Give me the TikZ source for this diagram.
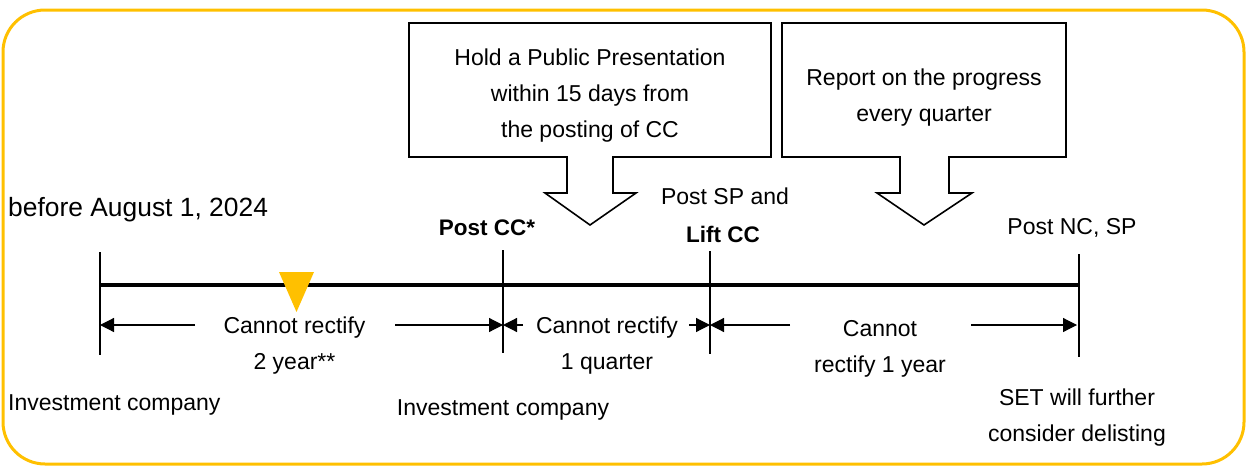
\documentclass[tikz,border=0pt]{standalone}
\usepackage{fontspec}
\setmainfont{Liberation Sans}
\usetikzlibrary{arrows.meta}
\definecolor{gold}{HTML}{FFC000}
\begin{document}
\begin{tikzpicture}[x=1pt,y=-1pt,
  lbl/.style={inner sep=0pt,font=\fontsize{23}{36}\selectfont,align=center},
  bold/.style={inner sep=0pt,font=\fontsize{22.5}{36}\selectfont\bfseries,align=center},
  boxline/.style={line width=1.6pt,draw=black},
  tick/.style={line width=1.8pt},
  dim/.style={line width=1.2pt,-{Triangle[length=14pt,width=14pt]}},
  axis/.style={line width=3.5pt}]
\useasboundingbox (0,0) rectangle (1248,466);
% frame
\draw[gold,line width=3pt,rounded corners=42pt] (3,10) rectangle (1244,464);
% callout 1
\node[lbl] (box1) at (590,96) {Hold a Public Presentation\\within 15 days from\\the posting of CC};
\draw[boxline] (567,157) -- (409,157) -- (409,23) -- (771,23) -- (771,157) -- (613,157)
  -- (613,193) -- (636,193) -- (590,225) -- (545,193) -- (567,193) -- cycle;
% callout 2
\node[lbl] (box2) at (924,98) {Report on the progress\\every quarter};
\draw[boxline] (900,157) -- (782,157) -- (782,23) -- (1066,23) -- (1066,157) -- (949,157)
  -- (949,193) -- (972,193) -- (924,225) -- (877,193) -- (900,193) -- cycle;
% timeline
\coordinate (t1) at (100,285);
\coordinate (t2) at (503,285);
\coordinate (t3) at (710,285);
\coordinate (t4) at (1079,285);
\draw[axis] (t1) -- (t4);
\draw[tick] (100,252) -- (100,355);
\draw[tick] (503,250) -- (503,353);
\draw[tick] (710,251) -- (710,354);
\draw[tick] (1079,254) -- (1079,357);
% marker
\fill[gold] (279,272) -- (314,272) -- (296.5,312) -- cycle;
% dimension arrows
\coordinate (a1) at (100,325);
\coordinate (a2) at (503,325);
\coordinate (a3) at (710,325);
\coordinate (a4) at (1077,325);
\coordinate (f1) at (195,325);
\coordinate (f2) at (395,325);
\coordinate (f3) at (523,325);
\coordinate (f4) at (689,325);
\coordinate (f5) at (790,325);
\coordinate (f6) at (971,325);
\draw[dim] (f1) -- (a1);
\draw[dim] (f2) -- (a2);
\draw[dim] (f3) -- (a2);
\draw[dim] (f4) -- (a3);
\draw[dim] (f5) -- (a3);
\draw[dim] (f6) -- (a4);
% labels
\node[lbl,anchor=west,font=\fontsize{26.4}{30}\selectfont] (before) at (8,210) {before August 1, 2024};
\node[bold] (postcc) at (487,228) {Post CC*};
\node[lbl] (postsp) at (725,196) {Post SP and};
\node[bold] (liftcc) at (723,234) {Lift CC};
\node[lbl] (postnc) at (1072,228) {Post NC, SP};
\node[lbl] (s1) at (294.5,346) {Cannot rectify\\2 year**};
\node[lbl] (s2) at (607,345.5) {Cannot rectify\\1 quarter};
\node[lbl] (s3) at (880,349) {Cannot\\rectify 1 year};
\node[lbl,anchor=west] (inv1) at (8,405) {Investment company};
\node[lbl] (inv2) at (503,410) {Investment company};
\node[lbl] (set) at (1077,418) {SET will further\\consider delisting};
\end{tikzpicture}
\end{document}
